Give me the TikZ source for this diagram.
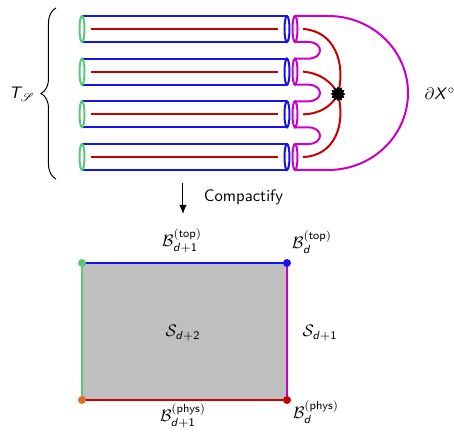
\documentclass[tikz,border=0pt]{standalone}
\usepackage{amsmath}
\usepackage{mathrsfs}
\usepackage{tikz}
\usetikzlibrary{arrows.meta,decorations.pathreplacing,shapes.geometric}
\DeclareMathAlphabet{\mathsfit}{OT1}{cmss}{m}{sl}
\newcommand{\dsub}[1]{\mathsfit{d}\mathsf{+#1}}
\definecolor{tubeblue}{RGB}{20,20,240}
\definecolor{capgreen}{RGB}{90,200,120}
\definecolor{wirered}{RGB}{200,0,0}
\definecolor{bdrymag}{RGB}{200,0,200}
\definecolor{cornerorange}{RGB}{220,110,30}
\tikzset{
  tubeline/.style={draw=tubeblue, line width=1.2pt},
  capline/.style={draw=capgreen, line width=1.2pt},
  wireline/.style={draw=wirered, line width=1.2pt},
  magline/.style={draw=bdrymag, line width=1.2pt},
  cornerdot/.style={circle, inner sep=0pt, minimum size=4.8pt},
  lbl/.style={inner sep=1pt},
  arrow/.style={-{Latex[length=5.5pt,width=4.5pt]}, semithick}
}

\begin{document}
\begin{tikzpicture}[x=0.6pt, y=-0.6pt, font=\sffamily]
  \useasboundingbox (0,0) rectangle (454,432);

  % the four tubes and their caps
  \foreach \i in {0,...,3} {
    \pgfmathsetmacro\yc{29+42.67*\i}
    \draw[tubeline] (82,\yc-13) -- (287,\yc-13);
    \draw[tubeline] (82,\yc+13) -- (287,\yc+13);
    \draw[tubeline] (287,\yc) ellipse [x radius=1.5pt, y radius=7.8pt];
    \draw[capline] (82,\yc) ellipse [x radius=1.5pt, y radius=7.8pt];
    \draw[magline] (295,\yc) ellipse [x radius=1.5pt, y radius=7.8pt];
    \draw[wireline] (91,\yc) -- (278,\yc);
    \coordinate (w\i) at (303,\yc);
  }

  % magenta U-turns between neighbouring caps
  \foreach \i in {0,1,2} {
    \pgfmathsetmacro\ya{29+42.67*\i+13}
    \pgfmathsetmacro\yb{29+42.67*(\i+1)-13}
    \draw[magline] (295,\ya) -- (308,\ya) .. controls (324,\ya) and (324,\yb) .. (308,\yb) -- (295,\yb);
  }

  % outer boundary
  \draw[magline] (295,16) -- (328,16) .. controls (373,16) and (408,51) .. (408,93)
    .. controls (408,135) and (373,170) .. (328,170) -- (295,170);

  % junction
  \draw[wireline] (w0) .. controls (335,31) and (346,64) .. (338,94);
  \draw[wireline] (w1) .. controls (320,73) and (332,82) .. (338,94);
  \draw[wireline] (w2) .. controls (320,114) and (332,106) .. (338,94);
  \draw[wireline] (w3) .. controls (335,156) and (346,124) .. (338,94);
  \node[star, star points=12, star point ratio=1.4, fill=black, inner sep=0pt, minimum size=9pt] (hub) at (338,94) {};

  % brace and labels
  \coordinate (brtop) at (56,8);
  \coordinate (brbot) at (56,179);
  \draw[decorate, decoration={brace, amplitude=9pt}, semithick] (brbot) -- (brtop);
  \node[lbl] (tlabel) at (22,94) {$\mathsfit{T}_{\mathscr{S}}$};
  \node[lbl] (dxlabel) at (440,94) {$\partial \mathsfit{X}^{\circ}$};

  % compactify arrow
  \coordinate (arrtop) at (183,183);
  \coordinate (arrbot) at (183,214);
  \draw[arrow] (arrtop) -- (arrbot);
  \node[lbl, anchor=west] (cmp) at (202,197) {Compactify};

  % the compactified square
  \coordinate (tl) at (82,263);
  \coordinate (tr) at (287,263);
  \coordinate (br) at (287,400);
  \coordinate (bl) at (82,400);
  \fill[gray!50] (tl) rectangle (br);
  \draw[tubeline] (tl) -- (tr);
  \draw[magline] (tr) -- (br);
  \draw[wireline] (br) -- (bl);
  \draw[capline] (bl) -- (tl);
  \node[cornerdot, fill=capgreen] at (tl) {};
  \node[cornerdot, fill=tubeblue] at (tr) {};
  \node[cornerdot, fill=wirered] at (br) {};
  \node[cornerdot, fill=cornerorange] at (bl) {};

  \node[lbl] (btop) at (182,241) {$\mathcal{B}_{\dsub{1}}^{(\text{top})}$};
  \node[lbl] (btopd) at (312,242) {$\mathcal{B}_{\mathsfit{d}}^{(\text{top})}$};
  \node[lbl] (sbulk) at (183,333) {$\mathcal{S}_{\dsub{2}}$};
  \node[lbl] (sbdry) at (320,333) {$\mathcal{S}_{\dsub{1}}$};
  \node[lbl] (bphys) at (183,416) {$\mathcal{B}_{\dsub{1}}^{(\text{phys})}$};
  \node[lbl] (bphysd) at (316,412) {$\mathcal{B}_{\mathsfit{d}}^{(\text{phys})}$};
\end{tikzpicture}
\end{document}
